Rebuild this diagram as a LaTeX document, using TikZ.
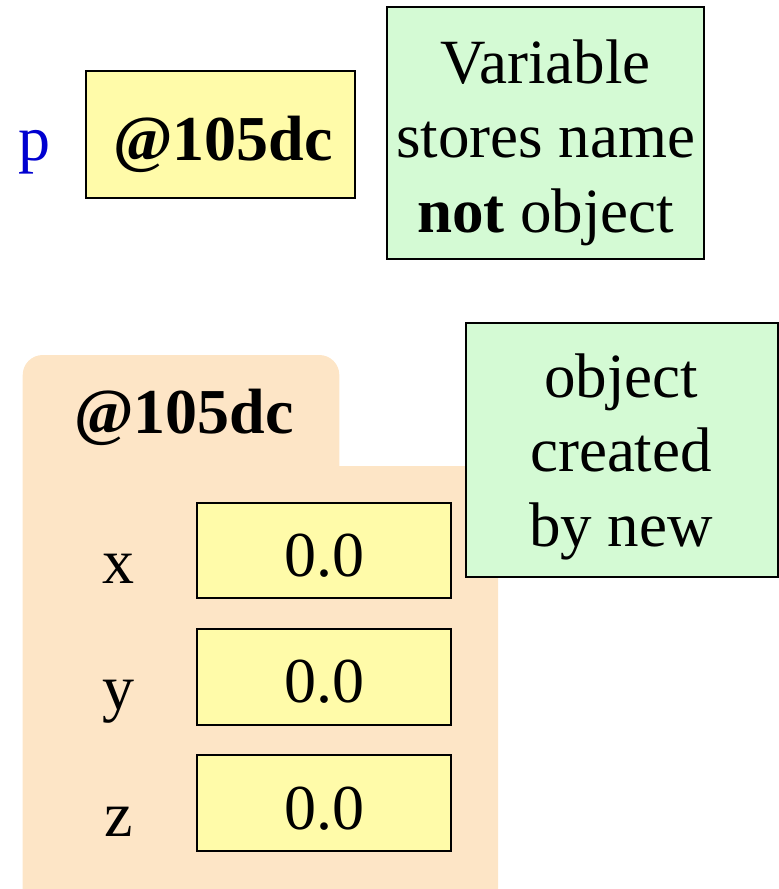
\documentclass[tikz,border=0pt]{standalone}
\usepackage{fontspec}
\setmainfont{Liberation Serif}
\definecolor{valfill}{HTML}{FFFBA9}
\definecolor{notefill}{HTML}{D4FAD4}
\definecolor{objfill}{HTML}{FDE5C6}
\definecolor{varblue}{HTML}{0000D0}
\begin{document}
\begin{tikzpicture}[x=1pt,y=-1pt,
  every node/.style={font=\fontsize{64}{74.5}\selectfont, inner sep=0pt},
  valbox/.style={draw=black, line width=2pt, fill=valfill},
  notebox/.style={draw=black, line width=2pt, fill=notefill},
  txt/.style={anchor=base},
  notetext/.style={align=center, anchor=center, font=\fontsize{63}{74.5}\selectfont}]
\useasboundingbox (0,0) rectangle (779,889);
% object (folder shape)
\fill[objfill] (22.7,889) -- (22.7,375) arc[start angle=180, end angle=270, radius=20]
  -- (319.3,355) arc[start angle=270, end angle=360, radius=20]
  -- (339.3,466) -- (498,466) -- (498,889) -- cycle;
% variable p
\node[txt, text=varblue] (pname) at (34.7,160) {p};
\node[valbox, minimum width=269pt, minimum height=127pt] (pbox) at (220.7,134.2) {};
\node[txt] (pval) at (222.8,160) {\bfseries @105dc};
% note 1
\node[notebox, minimum width=316.5pt, minimum height=252pt] (note1) at (545.7,133.3) {};
\node[notetext] (note1txt) at (545.8,142.5) {Variable\\stores name\\\textbf{not} object};
% object header
\node[txt] (objid) at (183.8,433.3) {\bfseries @105dc};
% fields
\node[valbox, minimum width=254pt, minimum height=95.5pt] (xbox) at (323.7,550.5) {};
\node[valbox, minimum width=254pt, minimum height=95.5pt] (ybox) at (323.7,676.8) {};
\node[valbox, minimum width=254pt, minimum height=95.5pt] (zbox) at (323.7,803.2) {};
\node[txt] (xval) at (324.3,576) {0.0};
\node[txt] (yval) at (324.3,702.3) {0.0};
\node[txt] (zval) at (324.3,829) {0.0};
\node[txt] (xname) at (118.3,583.3) {x};
\node[txt] (yname) at (118.3,709.3) {y};
\node[txt] (zname) at (118.3,836) {z};
% note 2
\node[notebox, minimum width=312pt, minimum height=253.4pt] (note2) at (622,450) {};
\node[notetext] (note2txt) at (621,456.5) {object\\created\\by new};
\end{tikzpicture}
\end{document}
